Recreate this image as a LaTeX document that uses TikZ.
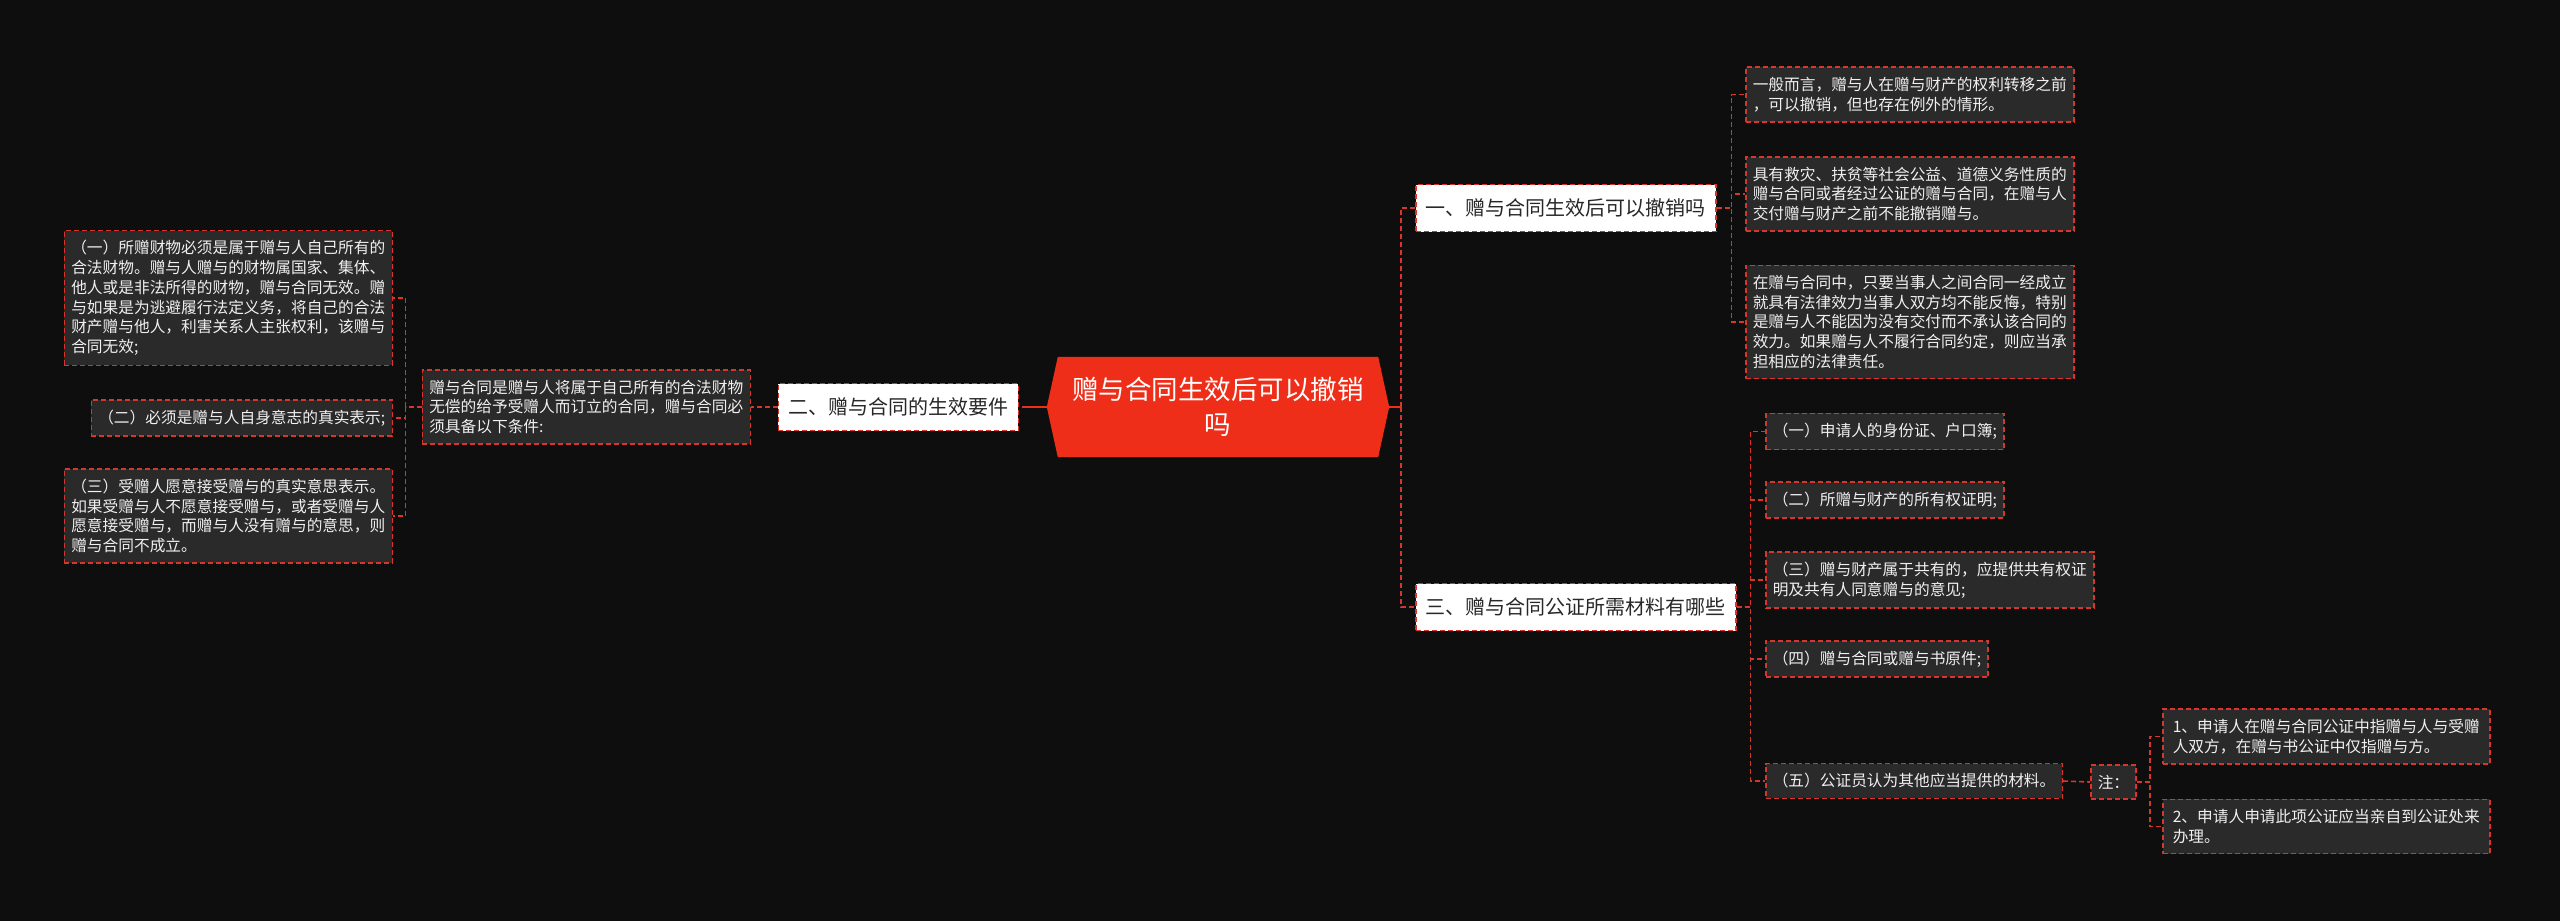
\documentclass[tikz,border=0pt]{standalone}
\usepackage{fontspec}
\setmainfont{Noto Sans CJK SC}
\usetikzlibrary{backgrounds}
\definecolor{bgc}{RGB}{14,14,14}
\definecolor{hexred}{RGB}{238,46,24}
\definecolor{dashred}{RGB}{214,54,44}
\definecolor{leafgray}{RGB}{42,42,42}
\definecolor{lvtext}{RGB}{40,40,40}
\definecolor{leaftext}{RGB}{240,240,240}
\tikzset{
  conn/.style={draw=dashred, line width=1.6pt, dash pattern=on 5pt off 3pt},
  solidconn/.style={draw=hexred, line width=2.2pt},
  leaf/.style={draw=dashred, line width=1.5pt, dash pattern=on 5pt off 3pt, fill=leafgray,
    text=leaftext, font=\fontsize{15.7}{19.7}\selectfont, align=left,
    inner xsep=7pt, inner ysep=10pt},
  lvone/.style={draw=dashred, line width=1.5pt, dash pattern=on 5pt off 3pt, fill=white,
    text=lvtext, font=\fontsize{20}{24}\selectfont, inner xsep=10pt, inner ysep=0pt,
    minimum height=47pt},
  centernode/.style={text=white, font=\fontsize{26.5}{35}\selectfont, align=center,
    minimum width=342pt, minimum height=100pt, inner sep=0pt}
}
\begin{document}
\begin{tikzpicture}[x=1pt,y=-1pt]
\begin{scope}[on background layer]
\fill[bgc] (0,0) rectangle (2560,921);
\end{scope}
\useasboundingbox (0,0) rectangle (2560,921);

% central
\node[centernode] (c) at (1218,407) {赠与合同生效后可以撤销\\吗};
\begin{scope}[on background layer]
\fill[hexred] (c.west) -- ([xshift=11pt]c.north west) -- ([xshift=-11pt]c.north east)
  -- (c.east) -- ([xshift=-11pt]c.south east) -- ([xshift=11pt]c.south west) -- cycle;
\end{scope}

% left side
\node[lvone, anchor=east] (l1) at (1019,407) {二、赠与合同的生效要件};
\node[leaf, anchor=east] (m) at (751,407) {赠与合同是赠与人将属于自己所有的合法财物\\无偿的给予受赠人而订立的合同，赠与合同必\\须具备以下条件:};
\node[leaf, anchor=east] (a) at (393,298) {（一）所赠财物必须是属于赠与人自己所有的\\合法财物。赠与人赠与的财物属国家、集体、\\他人或是非法所得的财物，赠与合同无效。赠\\与如果是为逃避履行法定义务，将自己的合法\\财产赠与他人，利害关系人主张权利，该赠与\\合同无效;};
\node[leaf, anchor=east] (b) at (393,418) {（二）必须是赠与人自身意志的真实表示;};
\node[leaf, anchor=east] (cc) at (393,516) {（三）受赠人愿意接受赠与的真实意思表示。\\如果受赠与人不愿意接受赠与，或者受赠与人\\愿意接受赠与，而赠与人没有赠与的意思，则\\赠与合同不成立。};

% right side
\node[lvone, anchor=west] (r1) at (1415,208) {一、赠与合同生效后可以撤销吗};
\node[lvone, anchor=west] (r3) at (1415,607) {三、赠与合同公证所需材料有哪些};

\node[leaf, anchor=west] (p1) at (1745,94.5) {一般而言，赠与人在赠与财产的权利转移之前\\，可以撤销，但也存在例外的情形。};
\node[leaf, anchor=west] (p2) at (1745,194) {具有救灾、扶贫等社会公益、道德义务性质的\\赠与合同或者经过公证的赠与合同，在赠与人\\交付赠与财产之前不能撤销赠与。};
\node[leaf, anchor=west] (p3) at (1745,322) {在赠与合同中，只要当事人之间合同一经成立\\就具有法律效力当事人双方均不能反悔，特别\\是赠与人不能因为没有交付而不承认该合同的\\效力。如果赠与人不履行合同约定，则应当承\\担相应的法律责任。};

\node[leaf, anchor=west] (q1) at (1765,431.5) {（一）申请人的身份证、户口簿;};
\node[leaf, anchor=west] (q2) at (1765,500) {（二）所赠与财产的所有权证明;};
\node[leaf, anchor=west] (q3) at (1765,580) {（三）赠与财产属于共有的，应提供共有权证\\明及共有人同意赠与的意见;};
\node[leaf, anchor=west] (q4) at (1765,659) {（四）赠与合同或赠与书原件;};
\node[leaf, anchor=west] (q5) at (1765,781) {（五）公证员认为其他应当提供的材料。};
\node[leaf, anchor=west] (nt) at (2090,782) {注：};
\node[leaf, anchor=west, inner xsep=10pt] (n1) at (2162,736.5) {1、申请人在赠与合同公证中指赠与人与受赠\\人双方，在赠与书公证中仅指赠与方。};
\node[leaf, anchor=west, inner xsep=10pt] (n2) at (2162,826.5) {2、申请人申请此项公证应当亲自到公证处来\\办理。};

% connectors
\draw[solidconn] (c.west) -- ([xshift=-20pt]c.west) coordinate (cw);
\draw[conn] (cw) -- (l1.east);
\draw[conn] (l1.west) -- (m.east);
\foreach \t in {a,b,cc}{
  \draw[conn] (m.west) -- ([xshift=-16pt]m.west) |- (\t.east);
}
\draw[solidconn] (c.east) -- ([xshift=12pt]c.east) coordinate (ce);
\foreach \t in {r1,r3}{
  \draw[conn] (ce) |- (\t.west);
}
\foreach \t in {p1,p2,p3}{
  \draw[conn] (r1.east) -- ([xshift=15pt]r1.east) |- (\t.west);
}
\foreach \t in {q1,q2,q3,q4,q5}{
  \draw[conn] (r3.east) -- ([xshift=14pt]r3.east) |- (\t.west);
}
\draw[conn] (q5.east) -- (nt.west);
\foreach \t in {n1,n2}{
  \draw[conn] (nt.east) -- ([xshift=13pt]nt.east) |- (\t.west);
}
\end{tikzpicture}
\end{document}
